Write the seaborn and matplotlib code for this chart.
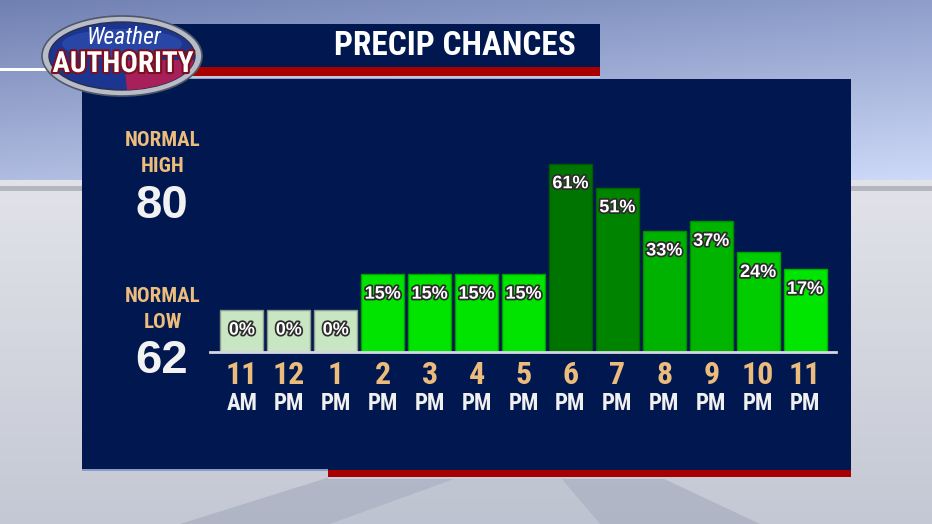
import os
import numpy as np
import pandas as pd
import matplotlib
matplotlib.use("Agg")
import matplotlib.pyplot as plt
import seaborn as sns
from matplotlib.patches import Rectangle, Ellipse, Polygon
from matplotlib.font_manager import FontProperties, fontManager
import matplotlib.patheffects as pe

# ---------------- data ----------------
hours = ["11", "12", "1", "2", "3", "4", "5", "6", "7", "8", "9", "10", "11"]
meridiem = ["AM", "PM", "PM", "PM", "PM", "PM", "PM", "PM", "PM", "PM", "PM", "PM", "PM"]
chances = [0, 0, 0, 15, 15, 15, 15, 61, 51, 33, 37, 24, 17]
bar_colors = ["#c8e6c2", "#c8e6c2", "#c8e6c2", "#00e400", "#00e400", "#00e400", "#00e400",
              "#007400", "#008400", "#00b200", "#00b400", "#00cc00", "#00e600"]
edge_colors = ["#8c9c8c", "#8c9c8c", "#8c9c8c", "#00a000", "#00a000", "#00a000", "#00a000",
               "#005a00", "#006400", "#008a00", "#008a00", "#00a000", "#00b000"]
normal_high = 80
normal_low = 62
title = "PRECIP CHANCES"

NAVY = "#01174f"
RED = "#a80000"
TAN = "#ecbc7c"
SANS = ["Liberation Sans", "DejaVu Sans"]


def _wnum(w):
    table = {"normal": 400, "regular": 400, "book": 400, "medium": 500, "semibold": 600,
             "demibold": 600, "bold": 700, "extra bold": 800, "black": 900, "heavy": 900}
    if isinstance(w, (int, float)):
        return int(w)
    return table.get(str(w).lower(), 400)


def find_narrow(want_italic=False, want_weight=700):
    prefs = ["liberation sans narrow", "arial narrow", "roboto condensed", "noto sans",
             "open sans", "dejavu sans", "lato", "inter"]
    best = None
    for f in fontManager.ttflist:
        base = os.path.basename(f.fname).lower()
        nm = f.name.lower()
        st = str(f.stretch).lower()
        narrow = ("narrow" in nm or "condensed" in nm or "narrow" in base
                  or "condensed" in base or st in ("condensed", "semi-condensed"))
        if not narrow or "extra" in base or "ultra" in base or "semi" in base:
            continue
        ital = f.style != "normal"
        if ital != want_italic:
            continue
        w = _wnum(f.weight)
        rank = next((i for i, p in enumerate(prefs) if nm.startswith(p)), len(prefs))
        score = (rank, abs(w - want_weight))
        if best is None or score < best[0]:
            best = (score, f.fname)
    return best[1] if best else None


NARROW_FILE = find_narrow(False, 700)
NARROW_IT_FILE = find_narrow(True, 400)


def nfp(size, italic=False):
    path = NARROW_IT_FILE if italic else NARROW_FILE
    if path:
        return FontProperties(fname=path, size=size)
    return FontProperties(family=SANS, weight="normal" if italic else "bold", size=size * 0.85,
                          style="italic" if italic else "normal")


W, H = 932, 524
fig = plt.figure(figsize=(W / 100, H / 100), dpi=100)

# ---------------- background (pixel coordinates) ----------------
bg = fig.add_axes([0, 0, 1, 1], zorder=0)
bg.set_xlim(0, W)
bg.set_ylim(H, 0)
bg.axis("off")

yy = np.arange(H)[:, None].astype(float)
xx = np.arange(W)[None, :].astype(float)
t = np.clip(yy / 180.0, 0, 1)
sky_top = np.array([112, 128, 178])
sky_bot = np.array([176, 188, 224])
sky = sky_top * (1 - t[..., None]) + sky_bot * t[..., None]
sky = sky + (xx / W)[..., None] * np.array([30, 30, 24])
floor_t = np.clip((yy - 180) / (H - 180), 0, 1)
floor = np.array([226, 227, 233]) * (1 - floor_t[..., None]) + np.array([196, 200, 212]) * floor_t[..., None]
floor = floor + 0 * xx[..., None]
mask = (yy < 180) + 0 * xx
img = np.where(mask[..., None] > 0, sky, floor)
band = ((yy >= 186) & (yy < 191)) + 0 * xx
img = np.where(band[..., None] > 0, np.array([180, 182, 192]), img)
img = np.clip(img, 0, 255) / 255.0
bg.imshow(img, extent=(0, W, H, 0), aspect="auto", zorder=0)

# floor perspective shapes
bg.add_patch(Polygon([[330, 477], [460, 477], [330, 524], [180, 524]], closed=True,
                     facecolor="#8a93aa", alpha=0.35, edgecolor="none", zorder=1))
bg.add_patch(Polygon([[560, 477], [660, 477], [760, 524], [600, 524]], closed=True,
                     facecolor="#8a93aa", alpha=0.35, edgecolor="none", zorder=1))
bg.add_patch(Polygon([[460, 477], [560, 477], [600, 524], [330, 524]], closed=True,
                     facecolor="#b4bccc", alpha=0.35, edgecolor="none", zorder=1))

# white line at left
bg.add_patch(Rectangle((0, 68), 50, 3, facecolor="white", edgecolor="none", zorder=2))

# main panel
bg.add_patch(Rectangle((82, 79), 769, 391, facecolor=NAVY, edgecolor="none", zorder=2))
bg.add_patch(Rectangle((82, 469), 246, 1.5, facecolor="#8c9cc8", edgecolor="none", zorder=3))
bg.add_patch(Rectangle((328, 470), 523, 7, facecolor=RED, edgecolor="none", zorder=3))
bg.add_patch(Rectangle((328, 477), 523, 1.5, facecolor="#c8ccd8", edgecolor="none", zorder=3))

# title banner
bg.add_patch(Rectangle((160, 24), 440, 43, facecolor=NAVY, edgecolor="none", zorder=3))
bg.add_patch(Rectangle((160, 67), 440, 9, facecolor=RED, edgecolor="none", zorder=3))
bg.add_patch(Rectangle((160, 76), 440, 2, facecolor="#c0c8dc", edgecolor="none", zorder=3))
bg.text(455, 46, title, color="white", fontproperties=nfp(24),
        ha="center", va="center", zorder=4)

# logo
bg.add_patch(Ellipse((122, 56), 160, 80, facecolor="#b8bcc8", edgecolor="#505868", lw=1.2, zorder=5))
inner = Ellipse((122, 56), 146, 68, facecolor="#1b3590", edgecolor="#2a2f48", lw=1.0, zorder=6)
bg.add_patch(inner)
red_wedge = Polygon([[124, 60], [200, 60], [200, 100], [128, 100]], closed=True,
                    facecolor="#a8205a", edgecolor="none", zorder=7)
bg.add_patch(red_wedge)
red_wedge.set_clip_path(inner)
hl = Ellipse((122, 44), 120, 30, facecolor="#3a5cc0", edgecolor="none", alpha=0.45, zorder=7)
bg.add_patch(hl)
hl.set_clip_path(inner)
bg.text(124, 37, "Weather", color="white", fontproperties=nfp(17, italic=True),
        ha="center", va="center", zorder=8)
bg.text(123, 64, "AUTHORITY", color="white", fontproperties=nfp(21),
        ha="center", va="center", zorder=8,
        path_effects=[pe.withStroke(linewidth=3, foreground="#7a1020")])

# normals
for label, y in [("NORMAL", 141), ("HIGH", 166), ("NORMAL", 297), ("LOW", 322)]:
    bg.text(163, y, label, color=TAN, fontproperties=nfp(15), ha="center", va="center", zorder=4)
bg.text(162, 206, f"{normal_high}", color="#f2f2f2", fontsize=34, fontweight="bold", family=SANS,
        ha="center", va="center", zorder=4)
bg.text(162, 361, f"{normal_low}", color="#f2f2f2", fontsize=34, fontweight="bold", family=SANS,
        ha="center", va="center", zorder=4)

# ---------------- bar chart ----------------
base_px, top_px = 352, 100
px_per_pct = 2.4
floor_pct = 17.5  # visual minimum bar height (display only)
left_px, right_px = 210, 836
ax = fig.add_axes([left_px / W, (H - base_px) / H, (right_px - left_px) / W, (base_px - top_px) / H],
                  zorder=5)
ax.patch.set_alpha(0)

df = pd.DataFrame({"slot": [f"{h} {m}" for h, m in zip(hours, meridiem)], "chance": chances})
sns.barplot(data=df, x="slot", y="chance", hue="slot", palette=bar_colors, legend=False,
            width=0.915, ax=ax, saturation=1, linewidth=1)
for p, ec in zip(ax.patches, edge_colors):
    p.set_y(-floor_pct)
    p.set_height(p.get_height() + floor_pct)
    p.set_edgecolor(ec)

ax.set_ylim(-floor_pct, (base_px - top_px) / px_per_pct - floor_pct)
pitch = 47.0
ax.set_xlim(-(242 - left_px) / pitch, 12 + (right_px - 805) / pitch)
ax.axhline(-floor_pct, color="#d4d8e4", lw=2, zorder=6, clip_on=False)
for s in ax.spines.values():
    s.set_visible(False)
ax.set_yticks([])
ax.set_ylabel("")
ax.set_xlabel("")
ax.set_xticks(range(len(hours)))
ax.set_xticklabels(hours, color=TAN)
for tl in ax.get_xticklabels():
    tl.set_fontproperties(nfp(23))
ax.tick_params(axis="x", length=0, pad=6)

for i, (v, m) in enumerate(zip(chances, meridiem)):
    ax.annotate(f"{v}%", xy=(i, v), xytext=(0, -14.5), textcoords="offset points",
                ha="center", va="center", color="white", fontsize=13, fontweight="bold",
                family=SANS, zorder=8,
                path_effects=[pe.withStroke(linewidth=2.5, foreground="#2c2c2c")])
    ax.annotate(m, xy=(i, -floor_pct), xytext=(0, -37), textcoords="offset points",
                ha="center", va="center", color="#f0f0f0", fontproperties=nfp(16.5),
                annotation_clip=False)

fig.savefig("out.png", dpi=100)
